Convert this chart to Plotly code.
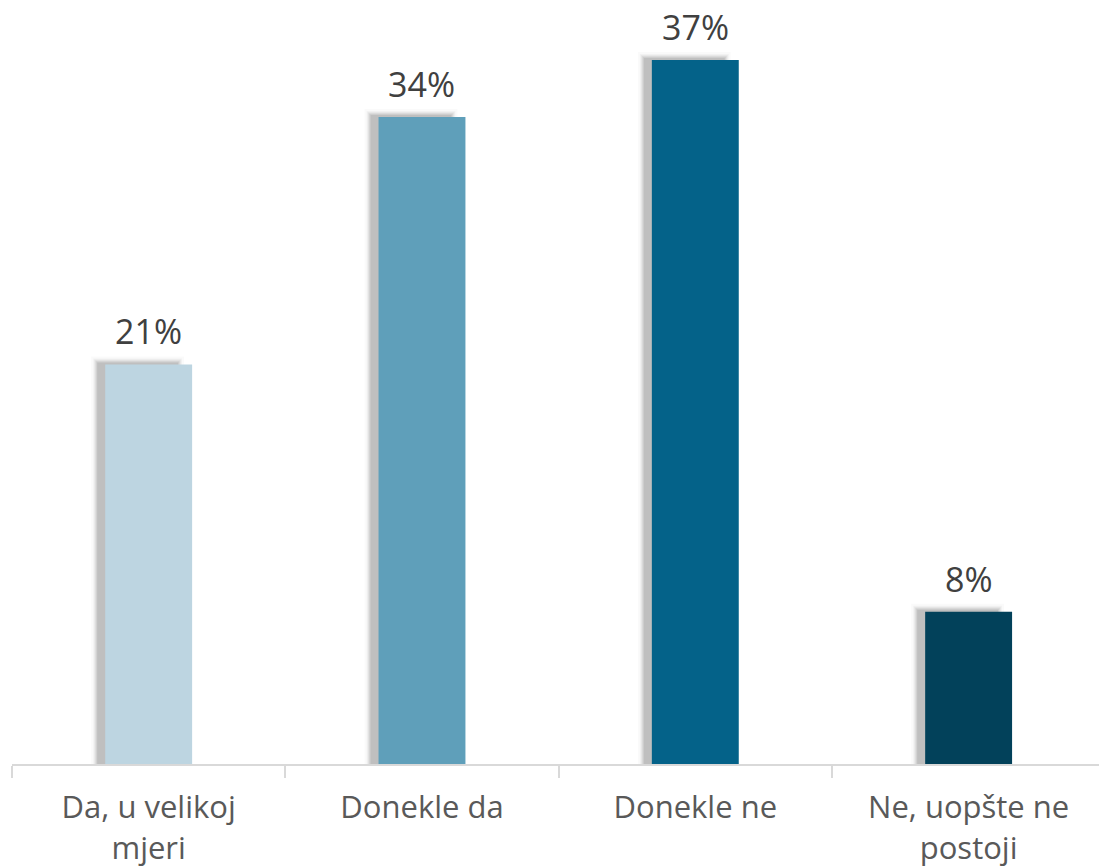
import plotly.graph_objects as go

categories = ["Da, u velikoj<br>mjeri", "Donekle da", "Donekle ne", "Ne, uopšte ne<br>postoji"]
values = [21, 34, 37, 8]
colors = ["#BDD5E1", "#5F9FBA", "#046289", "#02415A"]

FONT = "Open Sans, Liberation Sans, Arial, sans-serif"
BAR_W = 0.318
X_MAX = 3.477            # right edge of the category axis
Y_MAX = 40.15
PLOT_W = 1099 - 12
PLOT_H = 764
px_x = (X_MAX + 0.5) / PLOT_W   # one pixel in category units
px_y = Y_MAX / PLOT_H           # one pixel in value units

fig = go.Figure()

# soft drop shadow: stacked translucent bars shifted left and slightly up
shadow_layers = [(0, 0.07), (1, 0.06), (2, 0.05), (3, 0.04), (4, 0.03), (6, 0.02)]
for spread, alpha in shadow_layers:
    fig.add_trace(go.Bar(
        x=categories,
        y=[v + (2 + spread) * px_y for v in values],
        width=BAR_W + 2 * spread * px_x - 6 * px_x,
        offset=-BAR_W / 2 - 8 * px_x - spread * px_x,
        marker=dict(color=f"rgba(0,0,0,{alpha})", line=dict(width=0)),
        hoverinfo="skip",
        showlegend=False,
    ))

fig.add_trace(go.Bar(
    x=categories,
    y=values,
    width=BAR_W,
    marker=dict(color=colors, line=dict(width=0)),
    hoverinfo="skip",
    showlegend=False,
))

# value labels above the bars
for cat, v in zip(categories, values):
    fig.add_annotation(
        x=cat, y=v, text=f"{v}%",
        showarrow=False, yanchor="bottom", yshift=8,
        font=dict(size=34, color="#404040", family=FONT),
    )

fig.update_layout(
    width=1099,
    height=868,
    margin=dict(l=12, r=0, t=0, b=104),
    paper_bgcolor="white",
    plot_bgcolor="white",
    barmode="overlay",
    showlegend=False,
    font=dict(family=FONT),
    xaxis=dict(
        type="category",
        range=[-0.5, X_MAX],
        showline=True,
        linecolor="#D9D9D9",
        linewidth=2,
        ticks="outside",
        tickson="boundaries",
        ticklen=12,
        tickcolor="#D9D9D9",
        tickwidth=2,
        ticklabelstandoff=15,
        tickfont=dict(size=31, color="#595959", family=FONT),
        showgrid=False,
    ),
    yaxis=dict(
        range=[0, Y_MAX],
        visible=False,
        showgrid=False,
        zeroline=False,
    ),
)

fig.write_html("out.html")
